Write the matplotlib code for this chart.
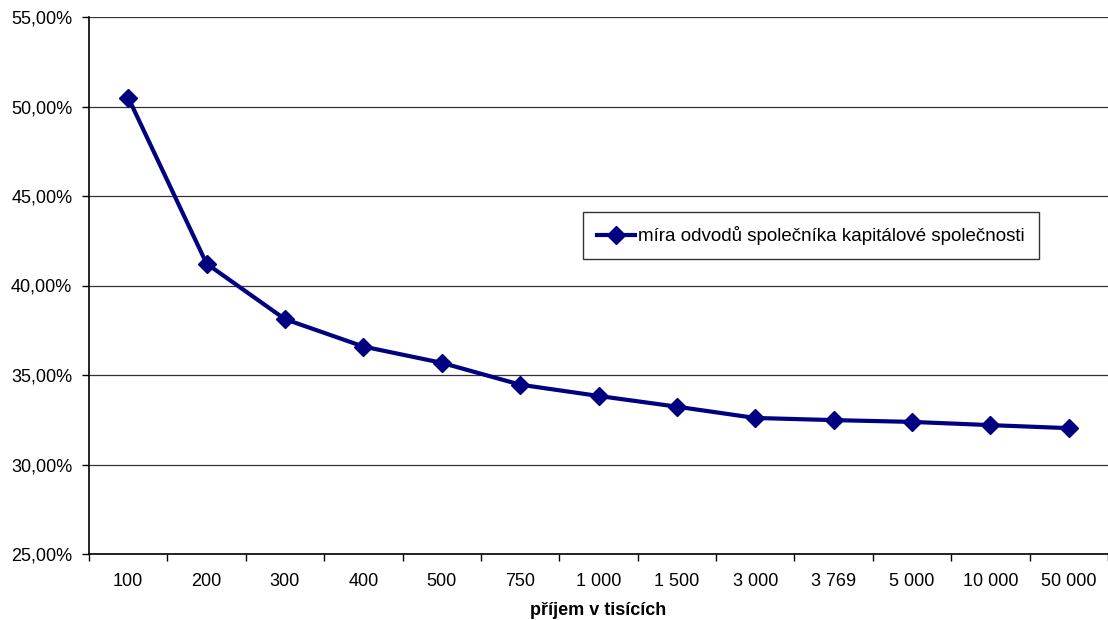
import numpy as np
import matplotlib.pyplot as plt
from matplotlib.ticker import FixedLocator, FuncFormatter

plt.rcParams['font.family'] = ['Liberation Sans', 'DejaVu Sans']

categories = ["100", "200", "300", "400", "500", "750", "1 000", "1 500",
              "3 000", "3 769", "5 000", "10 000", "50 000"]
rate = [50.50, 41.22, 38.12, 36.59, 35.68, 34.46, 33.83, 33.23,
        32.60, 32.48, 32.38, 32.20, 32.03]

fig = plt.figure(figsize=(11.08, 6.2), dpi=100)
ax = fig.add_axes([89 / 1108, 66 / 620, 1019 / 1108, 537 / 620])

x = np.arange(len(categories))
ax.plot(x, rate, color="#000080", lw=3, marker="D", markersize=9,
        label="míra odvodů společníka kapitálové společnosti", zorder=3)

ax.set_xlim(-0.5, len(categories) - 0.5)
ax.set_ylim(25, 55)
ax.set_yticks(np.arange(25, 56, 5))
ax.yaxis.set_major_formatter(FuncFormatter(lambda v, pos: f"{v:.2f}%".replace(".", ",")))
ax.set_xticks(x)
ax.set_xticklabels(categories)
ax.xaxis.set_minor_locator(FixedLocator(np.arange(-0.5, len(categories), 1)))
ax.tick_params(axis="x", which="major", length=0, labelsize=13, pad=14)
ax.tick_params(axis="x", which="minor", length=5, width=1, direction="out")
ax.tick_params(axis="y", length=5, width=1, direction="out", labelsize=13, pad=7)

ax.grid(axis="y", color="#333333", lw=0.9)
for side in ("top", "right"):
    ax.spines[side].set_visible(False)
for side in ("left", "bottom"):
    ax.spines[side].set_linewidth(1.2)

ax.set_xlabel("příjem v tisících", fontsize=13, weight="bold", labelpad=8)

leg = ax.legend(loc="upper left", bbox_to_anchor=(494 / 1019, (554 - 212) / 537),
                fontsize=13.5, frameon=True, fancybox=False, handlelength=2.0,
                borderpad=0.75, handletextpad=0.2, borderaxespad=0)
leg.get_frame().set_edgecolor("black")
leg.get_frame().set_linewidth(1.0)

fig.savefig("out.png", dpi=100)
